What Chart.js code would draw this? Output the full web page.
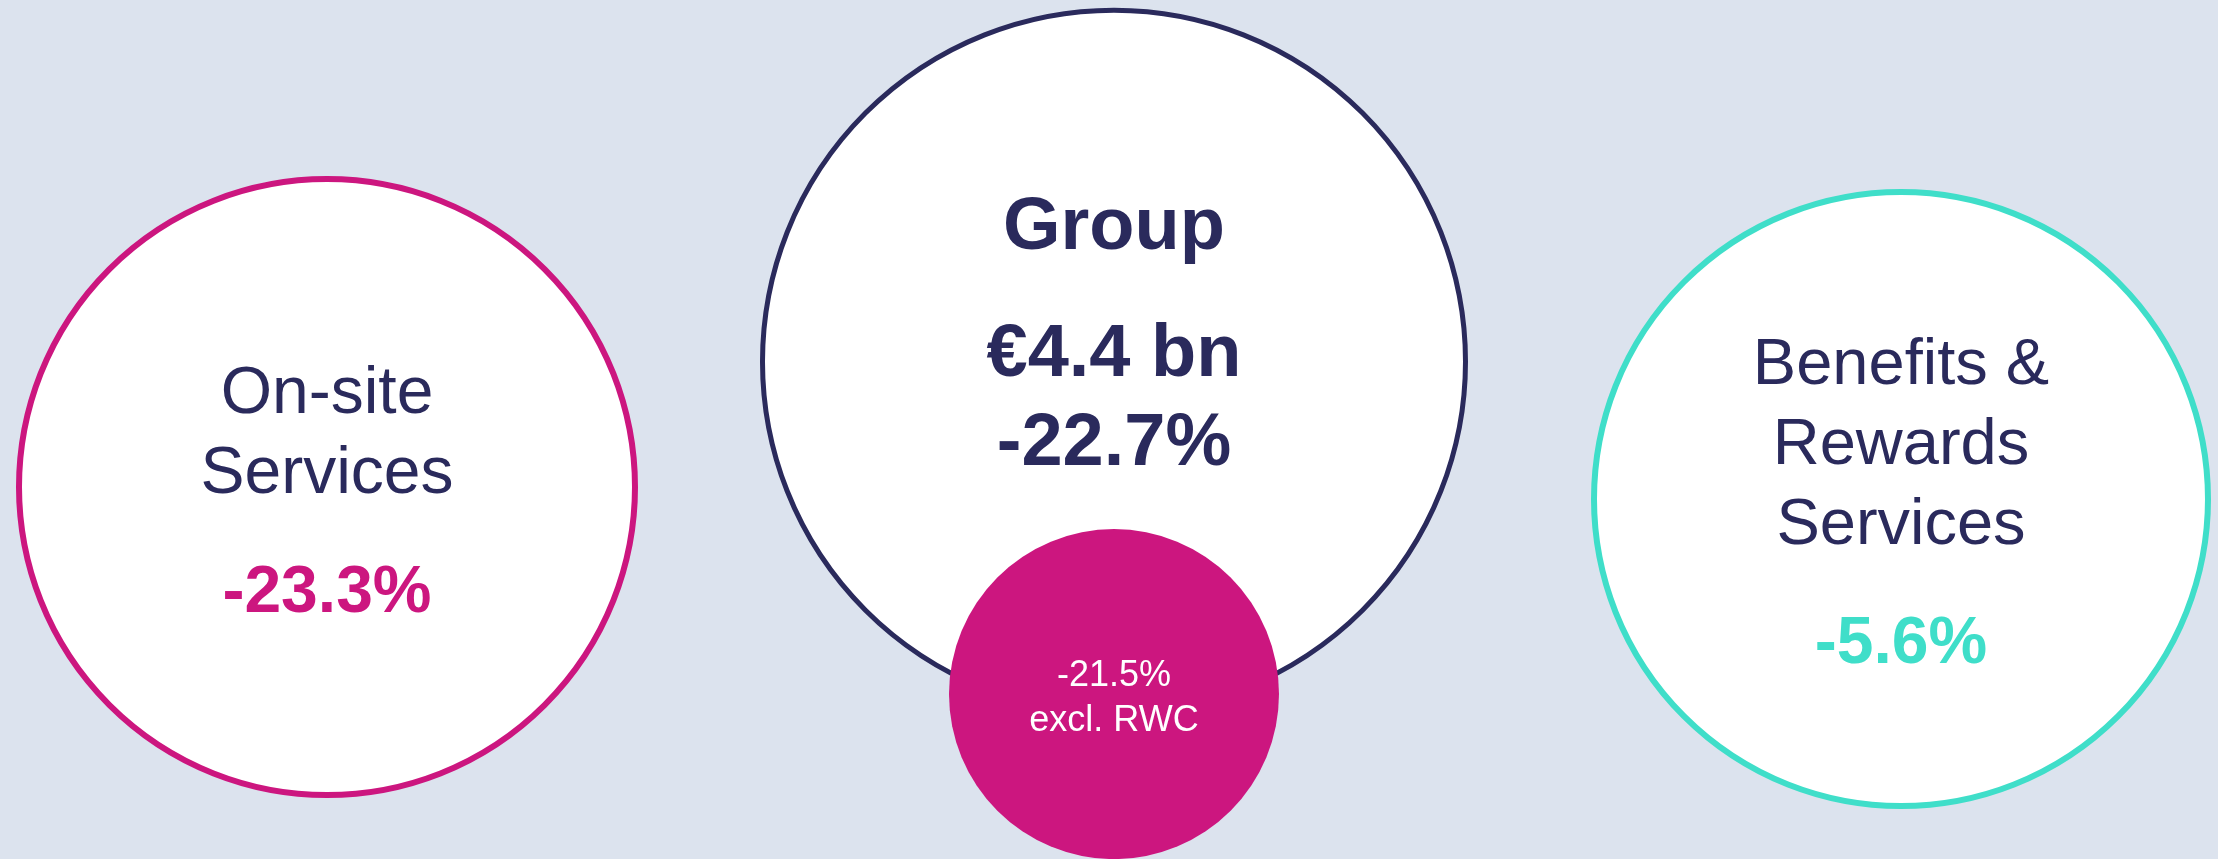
<!DOCTYPE html>
<html>
<head>
<meta charset="utf-8">
<script src="https://cdn.jsdelivr.net/npm/chart.js@4"></script>
<style>
  html, body { margin: 0; padding: 0; background: #dce3ee; overflow: hidden; }
  #wrap { width: 2218px; height: 859px; position: relative; }
</style>
</head>
<body>
<div id="wrap"><canvas id="revenueBubbles"></canvas></div>
<script>
// Données
const segments = ['On-site Services', 'Group', 'Benefits & Rewards Services', 'excl. RWC'];
const segmentLines = [['On-site', 'Services'], ['Group'], ['Benefits &', 'Rewards', 'Services'], ['excl. RWC']];
const organicGrowth = [-23.3, -22.7, -5.6, -21.5]; // %
const groupRevenueBn = 4.4; // € bn

// Mise en page des bulles (position en colonnes / pourcentage de hauteur)
const columnIndex = [0, 1, 2, 1];
const rowPercent = [56.7, 42.1, 58.1, 80.8];
const radii = [308, 351.5, 307, 165];

const navy = '#2a2a5c';
const magenta = '#cc167f';
const teal = '#3fdec9';
const fontFamily = '"Liberation Sans", Arial, sans-serif';

const fills = ['#ffffff', '#ffffff', '#ffffff', magenta];
const borders = [magenta, navy, teal, magenta];
const borderWidths = [6, 5, 6, 0];

function pct(v) { return v.toFixed(1) + '%'; }

// Textes dans chaque bulle : décalage vertical par rapport au centre
const bubbleTexts = [
    [
        { text: segmentLines[0][0], dy: -74, font: '66px', color: navy },
        { text: segmentLines[0][1], dy: 6, font: '66px', color: navy },
        { text: pct(organicGrowth[0]), dy: 125, font: 'bold 66px', color: magenta }
    ],
    [
        { text: segmentLines[1][0], dy: -113, font: 'bold 74px', color: navy },
        { text: '€' + groupRevenueBn.toFixed(1) + ' bn', dy: 14, font: 'bold 74px', color: navy },
        { text: pct(organicGrowth[1]), dy: 103, font: 'bold 74px', color: navy }
    ],
    [
        { text: segmentLines[2][0], dy: -115, font: '65px', color: navy },
        { text: segmentLines[2][1], dy: -35, font: '65px', color: navy },
        { text: segmentLines[2][2], dy: 45, font: '65px', color: navy },
        { text: pct(organicGrowth[2]), dy: 164, font: 'bold 66px', color: teal }
    ],
    [
        { text: pct(organicGrowth[3]), dy: -8, font: '36px', color: '#ffffff' },
        { text: segmentLines[3][0], dy: 37, font: '36px', color: '#ffffff' }
    ]
];

const bubbleLabels = {
    id: 'bubbleLabels',
    afterDatasetsDraw(chart) {
        const ctx = chart.ctx;
        const meta = chart.getDatasetMeta(0);
        ctx.save();
        ctx.textAlign = 'center';
        ctx.textBaseline = 'alphabetic';
        meta.data.forEach((pt, i) => {
            bubbleTexts[i].forEach(line => {
                ctx.font = line.font + ' ' + fontFamily;
                ctx.fillStyle = line.color;
                ctx.fillText(line.text, pt.x, pt.y + line.dy);
            });
        });
        ctx.restore();
    }
};

function createBubbleChart() {
    const ctx = document.getElementById('revenueBubbles').getContext('2d');
    const points = segments.map((s, i) => ({ x: columnIndex[i], y: rowPercent[i], r: radii[i] }));

    new Chart(ctx, {
        type: 'bubble',
        data: {
            labels: segments,
            datasets: [{
                label: 'Organic growth',
                data: points,
                backgroundColor: fills,
                borderColor: borders,
                borderWidth: borderWidths,
                clip: false
            }]
        },
        options: {
            responsive: true,
            maintainAspectRatio: false,
            animation: false,
            events: [],
            layout: { padding: 0, autoPadding: false },
            plugins: { legend: { display: false }, tooltip: { enabled: false } },
            scales: {
                x: { type: 'linear', display: false, min: -0.4155, max: 2.4028 },
                y: { type: 'linear', display: false, min: 0, max: 100, reverse: true }
            }
        },
        plugins: [bubbleLabels]
    });
}

document.addEventListener('DOMContentLoaded', createBubbleChart);
</script>
</body>
</html>
